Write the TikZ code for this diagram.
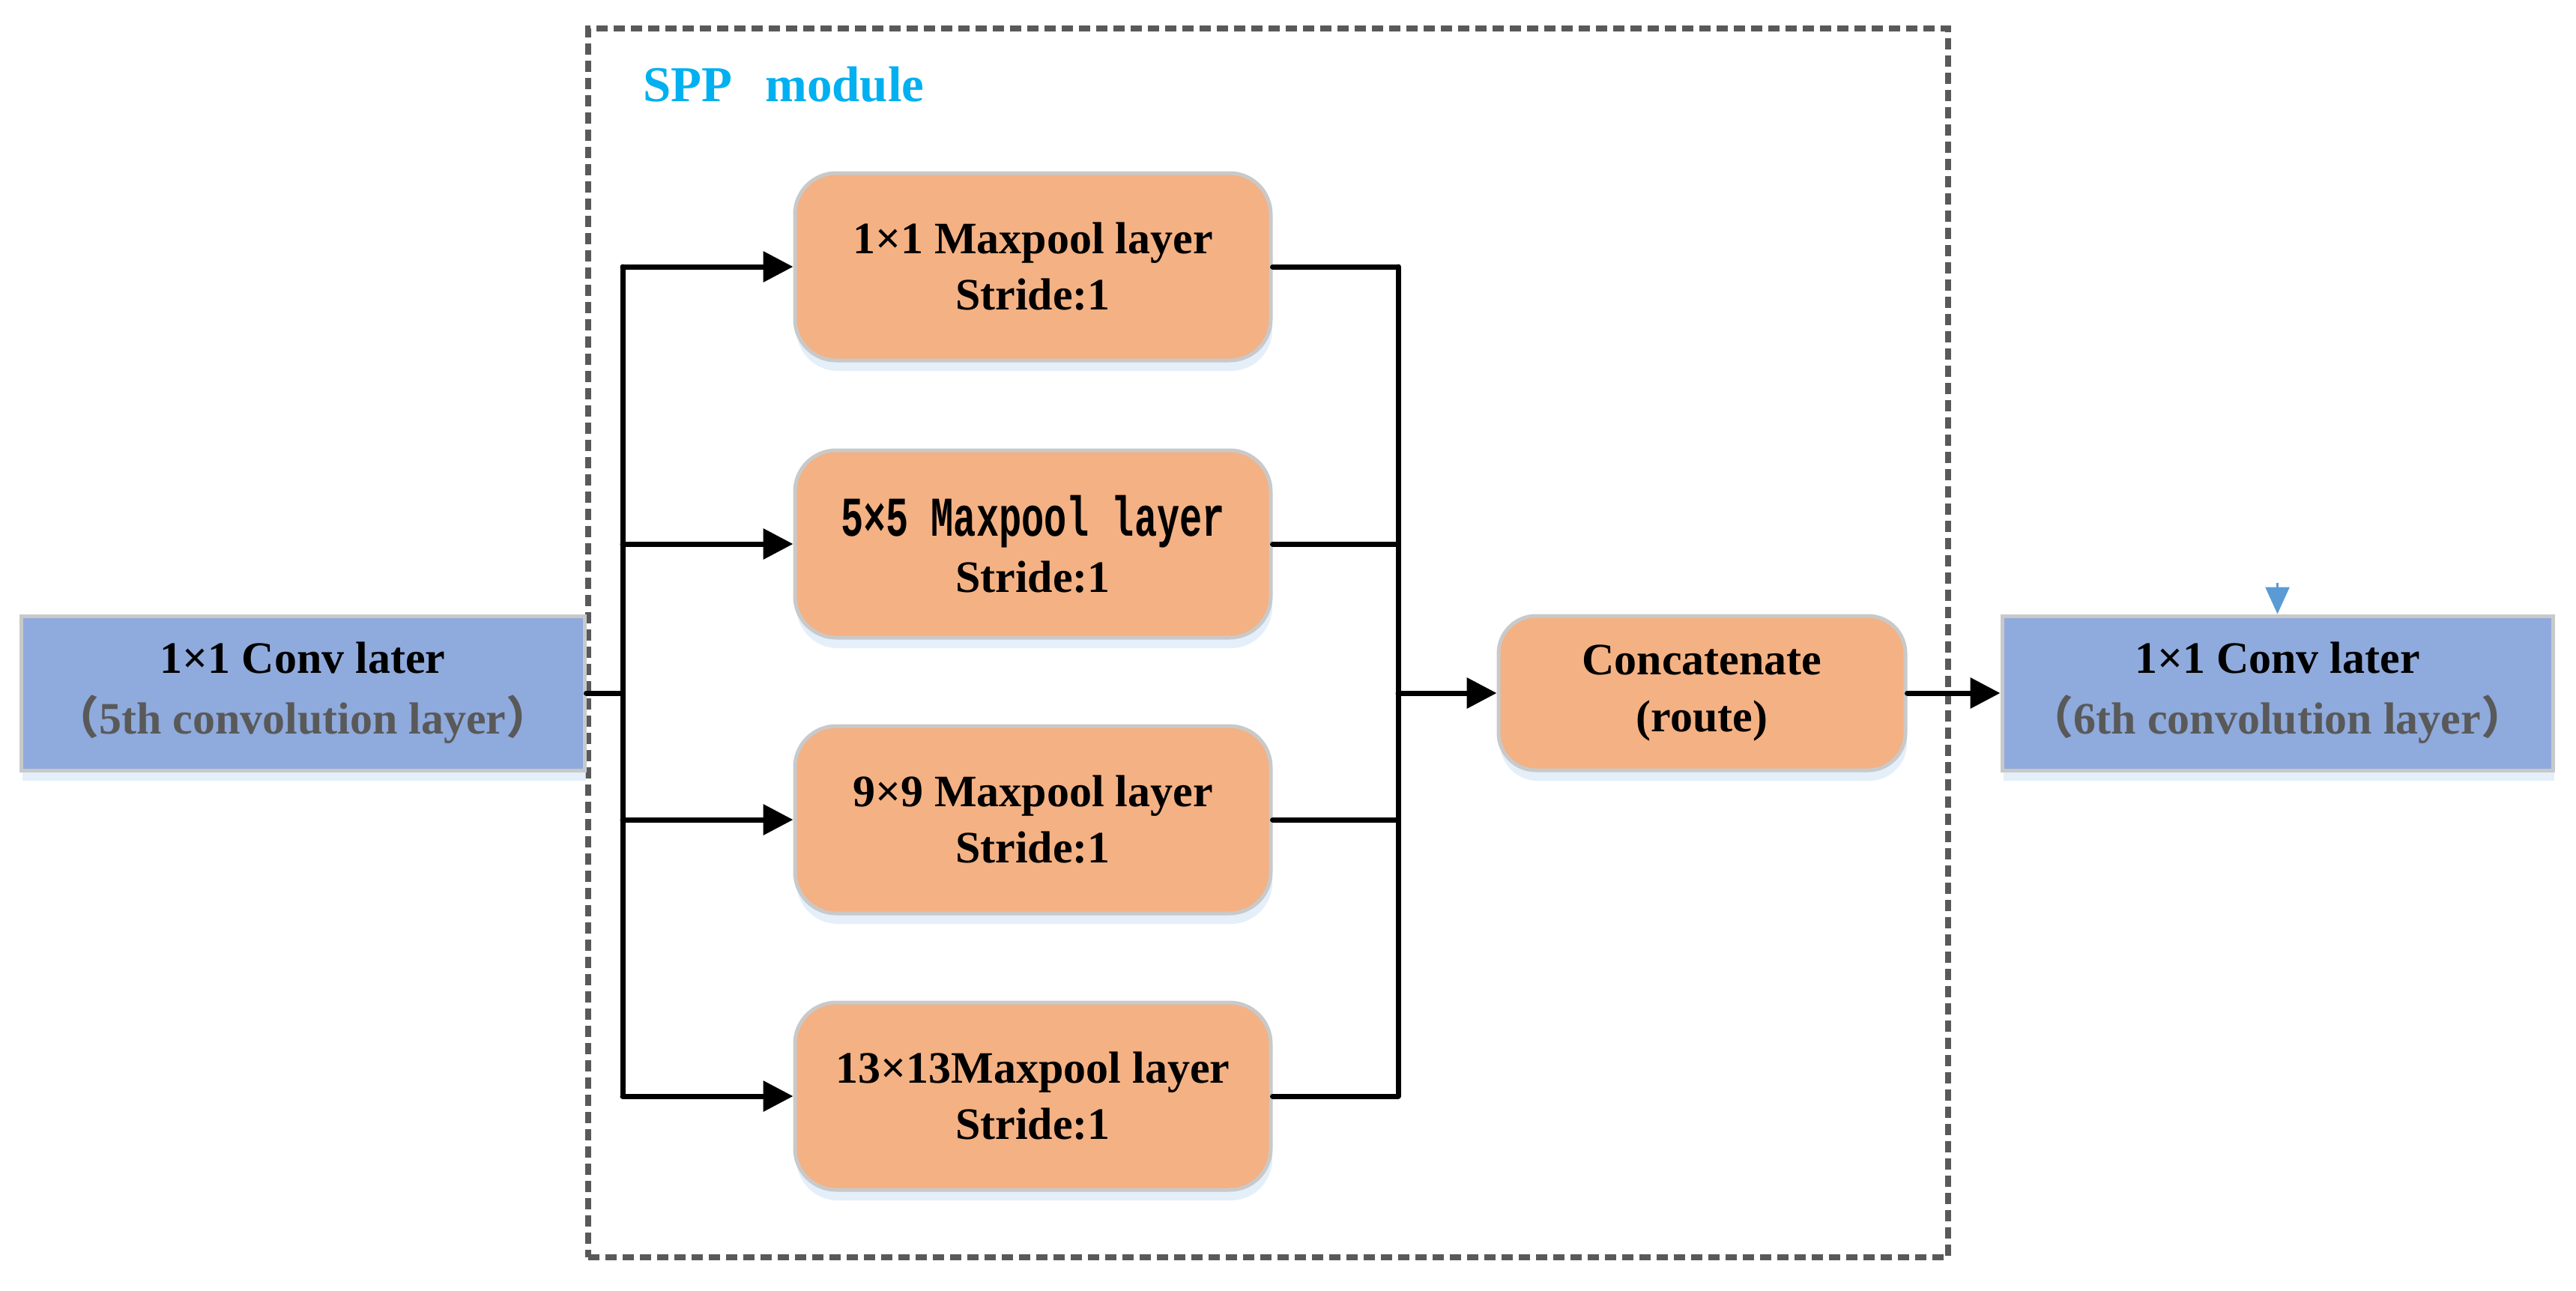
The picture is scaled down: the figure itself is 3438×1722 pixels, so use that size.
\documentclass[tikz,border=0pt]{standalone}
\usepackage{fontspec}
\setmainfont{Liberation Serif}
\newfontfamily\cjk{Noto Sans CJK SC}
\newfontfamily\monob{Liberation Mono}
\usepackage{graphicx}
\usetikzlibrary{arrows.meta,shadows,calc}
\definecolor{convblue}{HTML}{8FAADC}
\definecolor{poolorange}{HTML}{F4B183}
\definecolor{edgegray}{HTML}{C9C9C9}
\definecolor{framegray}{HTML}{595959}
\definecolor{subgray}{HTML}{595959}
\definecolor{sppcyan}{HTML}{00B0F0}
\definecolor{shadowblue}{HTML}{DDEBF7}
\definecolor{tipblue}{HTML}{5B9BD5}
\begin{document}
\begin{tikzpicture}[x=1pt,y=-1pt,
  boxshadow/.style={drop shadow={shadow xshift=2pt,shadow yshift=-14pt,fill=shadowblue,opacity=0.8}},
  convbox/.style={draw=edgegray,line width=5pt,fill=convblue,minimum width=#1,minimum height=206pt,inner sep=0pt,align=center,font=\fontsize{60}{81}\selectfont\bfseries,boxshadow},
  poolbox/.style={draw=edgegray,line width=5pt,fill=poolorange,rounded corners=55pt,minimum width=635pt,minimum height=250pt,inner sep=0pt,align=center,font=\fontsize{60}{75}\selectfont\bfseries,boxshadow},
  catbox/.style={draw=edgegray,line width=5pt,fill=poolorange,rounded corners=50pt,minimum width=543pt,minimum height=206pt,inner sep=0pt,align=center,font=\fontsize{60}{76}\selectfont\bfseries,boxshadow},
  framebox/.style={draw=framegray,line width=8pt,dash pattern=on 15pt off 8pt,minimum width=1815pt,minimum height=1640pt,inner sep=0pt},
  conn/.style={line width=7pt,black,line cap=round},
  arr/.style={conn,-{Triangle[length=40pt,width=40pt]}},
  bluearr/.style={line width=3pt,tipblue,-{Triangle[length=36pt,width=32pt]}}
]
\useasboundingbox (0,0) rectangle (3438,1722);
% frame
\node[framebox] (spp) at (1692.5,858) {};
\node[anchor=base west,text=sppcyan,font=\fontsize{67}{67}\selectfont\bfseries,inner sep=0pt] (spplabel) at (858,135) {SPP\hspace{44pt}module};
% boxes
\node[convbox=752pt] (in) at (404,925) {1×1 Conv later\\{\color{subgray}{\cjk （}5th convolution layer{\cjk ）}}};
\node[poolbox] (p1) at (1378.5,356) {1×1 Maxpool layer\\Stride:1};
\node[poolbox] (p2) at (1378.5,726) {\scalebox{0.67}[1]{\fontsize{75}{75}\selectfont\monob\bfseries 5×5 Maxpool layer}\\Stride:1};
\node[poolbox] (p3) at (1378.5,1094) {9×9 Maxpool layer\\Stride:1};
\node[poolbox] (p4) at (1378.5,1463) {13×13Maxpool layer\\Stride:1};
\node[catbox] (cat) at (2271.5,925) {Concatenate\\(route)};
\node[convbox=735pt] (out) at (3039.5,925) {1×1 Conv later\\{\color{subgray}{\cjk （}6th convolution layer{\cjk ）}}};
% connectors
\coordinate (split) at (831,925);
\coordinate (join) at (1866,925);
\draw[conn] (in.east) -- (split);
\draw[conn] (split |- p1.west) -- (split |- p4.west);
\foreach \p in {p1,p2,p3,p4} {
  \draw[arr] (split |- \p.west) -- (\p.west);
  \draw[conn] (\p.east) -- (join |- \p.east);
}
\draw[conn] (join |- p1.east) -- (join |- p4.east);
\draw[arr] (join) -- (cat.west);
\draw[arr] (cat.east) -- (out.west);
\coordinate (bluetop) at ($(out.north)+(0,-42)$);
\draw[bluearr] (bluetop) -- (out.north);
\end{tikzpicture}
\end{document}
